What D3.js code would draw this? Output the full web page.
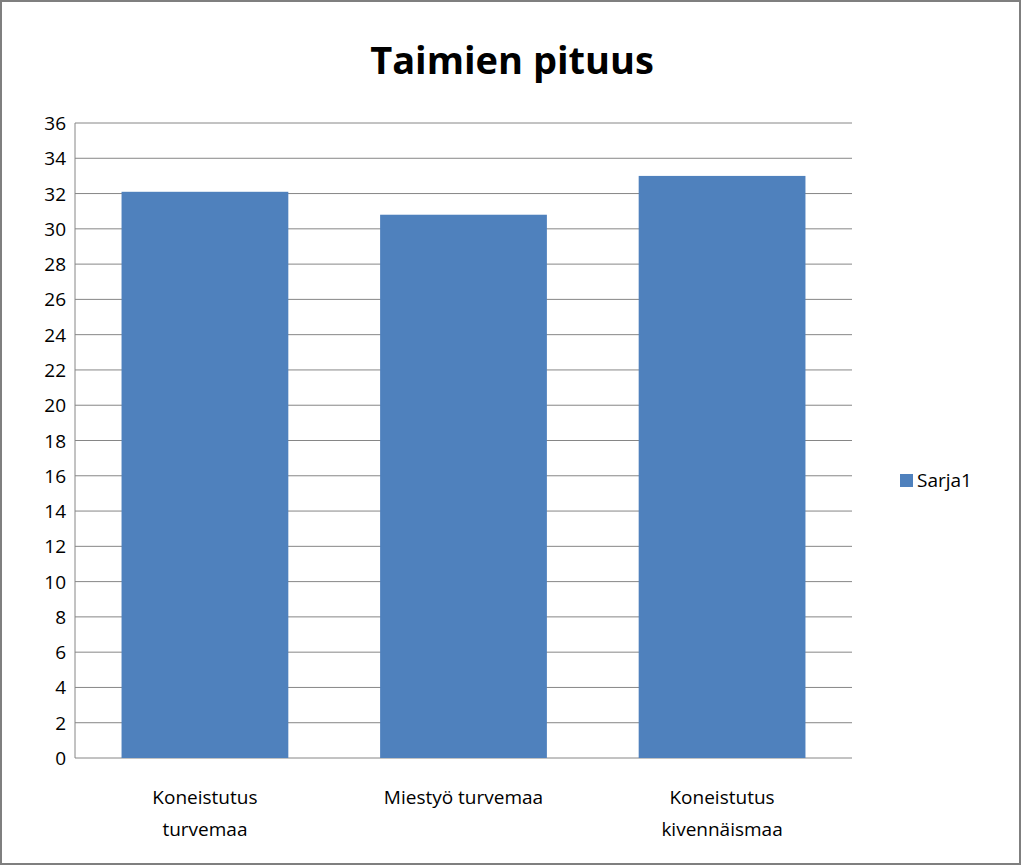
<!DOCTYPE html>
<html><head><meta charset="utf-8">
<script src="https://cdn.jsdelivr.net/npm/d3@7/dist/d3.min.js"></script>
<style>body{margin:0;background:#fff}svg{display:block;font-family:"Open Sans","Liberation Sans",sans-serif}</style>
</head><body><svg id="c" width="1024" height="868"></svg>
<script>
const categories=[["Koneistutus","turvemaa"],["Miestyö turvemaa"],["Koneistutus","kivennäismaa"]];
const values=[32.1,30.8,33.0];
const yTicks=d3.range(0,37,2);
const seriesName="Sarja1";
const svg=d3.select("#c");
svg.append("rect").attr("x",1).attr("y",1).attr("width",1019).attr("height",863).attr("fill","#fff").attr("stroke","#7f7f7f").attr("stroke-width",2);
const L=75,R=852,T=123,B=758;
const x=d3.scaleBand().domain(d3.range(categories.length)).range([L,R]).paddingInner(0.355).paddingOuter(0.18);
const y=d3.scaleLinear().domain([0,36]).range([B,T]);
svg.append("g").selectAll("line").data(yTicks).join("line").attr("x1",L).attr("x2",R).attr("y1",d=>y(d)).attr("y2",d=>y(d)).attr("stroke","#868686").attr("stroke-width",1);
svg.append("line").attr("x1",L).attr("x2",L).attr("y1",T).attr("y2",B).attr("stroke","#868686");
svg.append("g").selectAll("rect").data(values).join("rect").attr("x",(d,i)=>x(i)).attr("width",x.bandwidth()).attr("y",d=>y(d)).attr("height",d=>B-y(d)).attr("fill","#4f81bd");
svg.append("g").selectAll("text").data(yTicks).join("text").attr("x",L-9).attr("y",d=>y(d)+7).attr("text-anchor","end").attr("font-size",19).attr("fill","#000").text(d=>d);
const cg=svg.append("g").selectAll("text").data(categories).join("text").attr("text-anchor","middle").attr("font-size",19).attr("fill","#000");
cg.each(function(lines,i){d3.select(this).selectAll("tspan").data(lines).join("tspan").attr("x",x(i)+x.bandwidth()/2).attr("y",(d,j)=>804+j*32).text(d=>d);});
svg.append("text").attr("x",512).attr("y",74).attr("text-anchor","middle").attr("font-size",38).attr("font-weight","bold").text("Taimien pituus");
svg.append("rect").attr("x",900).attr("y",474).attr("width",13).attr("height",13).attr("fill","#4f81bd");
svg.append("text").attr("x",917).attr("y",487).attr("font-size",19).text(seriesName);
</script></body></html>
